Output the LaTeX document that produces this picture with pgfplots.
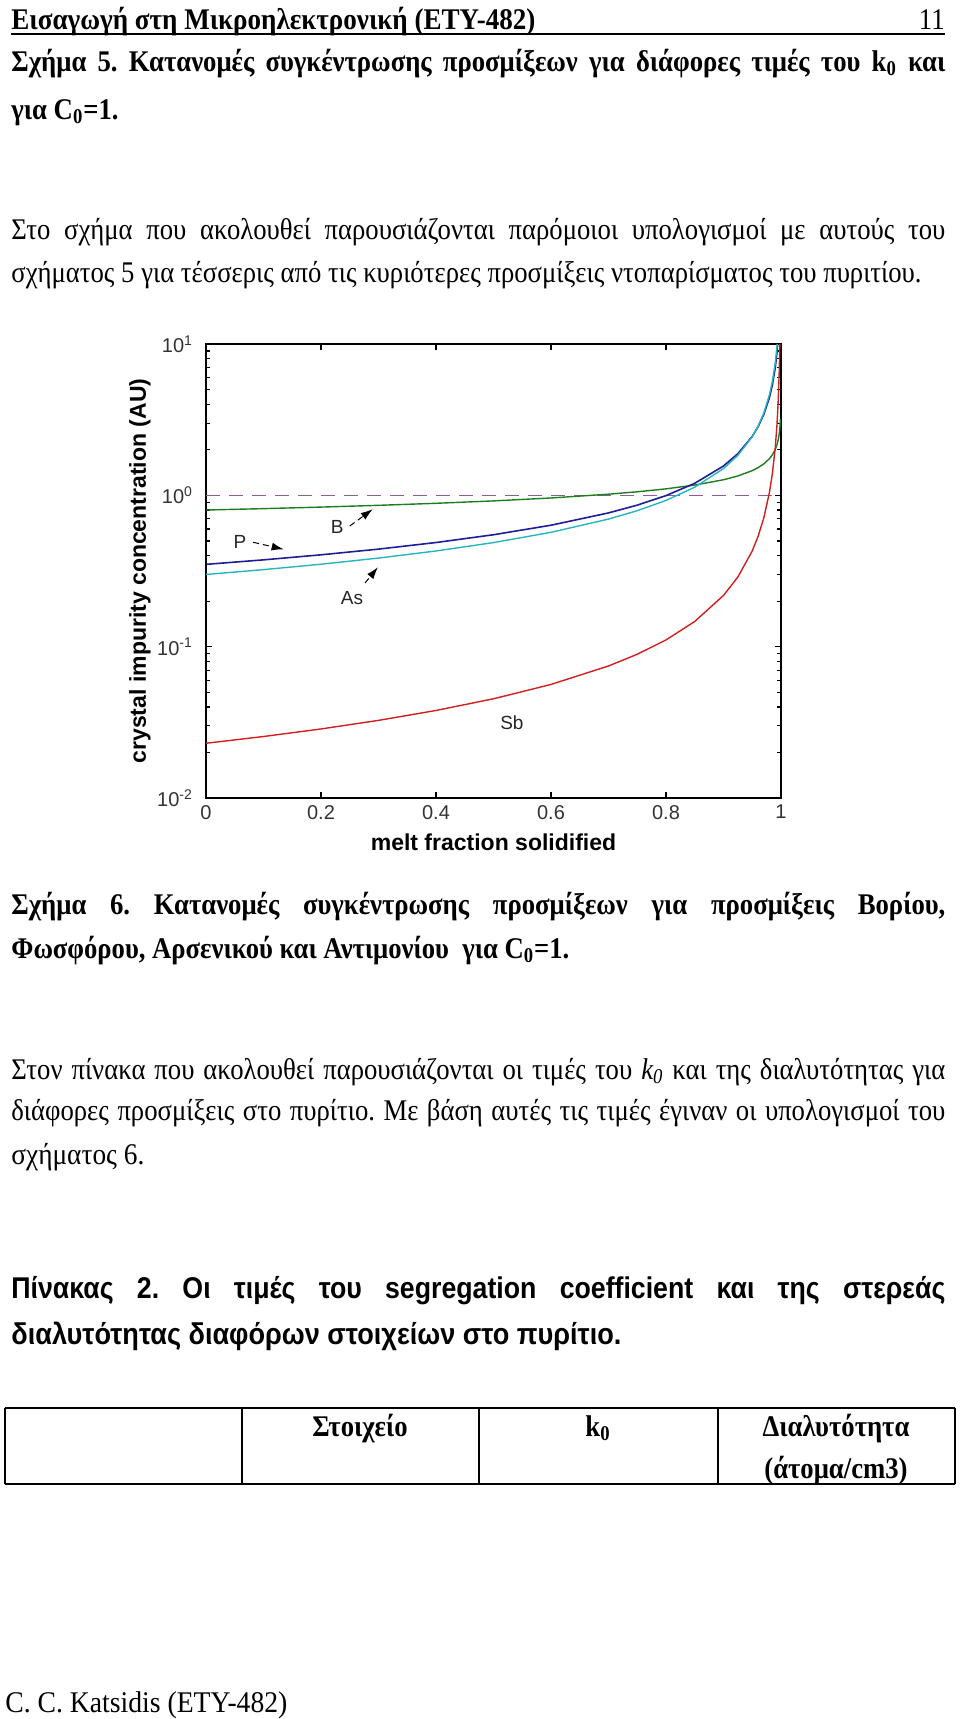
\documentclass[border=0pt]{standalone}
\usepackage{fontspec}
\usepackage{graphicx}
\setmainfont{Liberation Serif}[FakeStretch=0.89]
\newfontfamily\hsans{Liberation Sans}[FakeStretch=0.89]
\newfontfamily\chartfont{Liberation Sans}
\usepackage{pgfplots}
\pgfplotsset{compat=1.18}
\usetikzlibrary{arrows.meta}
\definecolor{cB}{RGB}{30,125,30}
\definecolor{cP}{RGB}{30,30,150}
\definecolor{cAs}{RGB}{40,180,190}
\definecolor{cSb}{RGB}{210,30,30}
\definecolor{cRef}{RGB}{140,95,150}
\newsavebox\lbox
\newcommand\fitto[2]{\sbox\lbox{#2}\pgfmathsetmacro\lratio{#1/\the\wd\lbox}\scalebox{\lratio}[1]{\usebox\lbox}}
\newcommand\jline[1]{\sbox\lbox{#1}\ifdim\wd\lbox>467pt\relax\fitto{467pt}{#1}\else\makebox[467pt][s]{#1}\fi}
\begin{document}
\frenchspacing
\begin{tikzpicture}
\begin{scope}[x=0.5pt,y=-0.5pt, every node/.style={inner sep=0pt, font=\fontsize{15}{18}\selectfont}]
\path[use as bounding box] (0,0) rectangle (960,1719);
% header
\node[anchor=base west] at (11,29) {\fitto{262pt}{\bfseries Εισαγωγή στη Μικροηλεκτρονική (ΕΤΥ-482)}};
\node[anchor=base east] at (945,29) {11};
\draw[line width=0.8pt] (11,34) -- (945,34);
% paragraph 1
\node[anchor=base west] at (11,71) {\jline{\bfseries Σχήμα 5. Κατανομές συγκέντρωσης προσμίξεων για διάφορες τιμές του k\textsubscript{0} και}};
\node[anchor=base west] at (11,119) {\bfseries για C\textsubscript{0}=1.};
\node[anchor=base west] at (11,239) {\jline{Στο σχήμα που ακολουθεί παρουσιάζονται παρόμοιοι υπολογισμοί με αυτούς του}};
\node[anchor=base west] at (11,282) {σχήματος 5 για τέσσερις από τις κυριότερες προσμίξεις ντοπαρίσματος του πυριτίου.};
% caption 6
\node[anchor=base west] at (11,914) {\jline{\bfseries Σχήμα 6. Κατανομές συγκέντρωσης προσμίξεων για προσμίξεις Βορίου,}};
\node[anchor=base west] at (11,958) {\fitto{279pt}{\bfseries Φωσφόρου, Αρσενικού και Αντιμονίου\ \ για C\textsubscript{0}=1.}};
\node[anchor=base west] at (11,1079) {\jline{Στον πίνακα που ακολουθεί παρουσιάζονται οι τιμές του \textit{k\textsubscript{0}} και της διαλυτότητας για}};
\node[anchor=base west] at (11,1120) {\jline{διάφορες προσμίξεις στο πυρίτιο. Με βάση αυτές τις τιμές έγιναν οι υπολογισμοί του}};
\node[anchor=base west] at (11,1164) {\fitto{66.5pt}{σχήματος 6.}};
% table caption
\node[anchor=base west] at (11,1298) {\jline{\hsans\bfseries Πίνακας 2. Οι τιμές του segregation coefficient και της στερεάς}};
\node[anchor=base west] at (11,1344) {\fitto{305pt}{\hsans\bfseries διαλυτότητας διαφόρων στοιχείων στο πυρίτιο.}};
% table
\draw[line width=1.2pt] (5,1408) -- (955,1408);
\draw[line width=1.2pt] (5,1484) -- (955,1484);
\foreach \xx in {5,242,479,718,955} {\draw[line width=0.6pt] (\xx,1408) -- (\xx,1484);}
\node[anchor=base] at (360,1436) {\bfseries Στοιχείο};
\node[anchor=base] at (598,1436) {\bfseries k\textsubscript{0}};
\node[anchor=base] at (836,1436) {\bfseries Διαλυτότητα};
\node[anchor=base] at (836,1478) {\bfseries (άτομα/cm3)};
% footer
\node[anchor=base west] at (5,1712) {\fitto{141pt}{C. C. Katsidis (ETY-482)}};
\end{scope}
\begin{axis}[
  at={(103pt,-399pt)}, anchor=south west,
  scale only axis, width=287.5pt, height=227pt,
  xmin=0, xmax=1, ymode=log, ymin=0.01, ymax=10,
  xtick={0,0.2,0.4,0.6,0.8,1},
  xticklabels={0,0.2,0.4,0.6,0.8,1},
  ytick={0.01,0.1,1,10},
  yticklabels={10\textsuperscript{-2},10\textsuperscript{-1},10\textsuperscript{0},10\textsuperscript{1}},
  minor ytick={0.02,0.03,0.04,0.05,0.06,0.07,0.08,0.09,0.2,0.3,0.4,0.5,0.6,0.7,0.8,0.9,2,3,4,5,6,7,8,9},
  tick align=inside,
  major tick length=3pt, minor tick length=2pt,
  every tick/.style={black, line width=0.6pt},
  axis line style={line width=1pt},
  ticklabel style={font=\chartfont\fontsize{10}{12}\selectfont, text=black!80},
  yticklabel style={xshift=-3pt},
  xlabel={\chartfont\bfseries\fontsize{11.5}{13}\selectfont melt fraction solidified},
  ylabel={\chartfont\bfseries\fontsize{11.5}{13}\selectfont crystal impurity concentration (AU)},
  xlabel style={at={(axis description cs:0.5,-0.0969)}, anchor=center},
  ylabel style={at={(axis description cs:-0.1148,0.5)}, anchor=center},
]
% reference C0 = 1
\addplot[cRef, line width=0.8pt, dash pattern=on 7pt off 4.5pt] coordinates {(0,1) (1,1)};
% B, k0 = 0.8
\addplot[cB, line width=0.7pt] coordinates {
(0,0.8) (0.1,0.817) (0.2,0.8365) (0.3,0.8592) (0.4,0.8861) (0.5,0.919) (0.6,0.9609)
(0.7,1.0178) (0.75,1.0556) (0.8,1.1038) (0.85,1.1692) (0.9,1.2679) (0.925,1.343)
(0.95,1.4564) (0.96,1.5229) (0.97,1.6131) (0.98,1.7494) (0.985,1.853) (0.99,2.0095)
(0.993,2.1581) (0.995,2.3083) (0.997,2.5566) (0.998,2.7726) (0.999,3.1849)};
% P, k0 = 0.35
\addplot[cP, line width=0.8pt] coordinates {
(0,0.35) (0.1,0.3748) (0.2,0.4046) (0.3,0.4413) (0.4,0.4878) (0.5,0.5492) (0.6,0.6349)
(0.7,0.7655) (0.75,0.8618) (0.8,0.9963) (0.85,1.2012) (0.9,1.5634) (0.925,1.8848)
(0.95,2.4532) (0.96,2.8363) (0.97,3.4192) (0.98,4.4504) (0.985,5.3656) (0.99,6.9834)
(0.993,8.806) (0.995,10.96) (0.997,15.27)};
% As, k0 = 0.3
\addplot[cAs, line width=0.7pt] coordinates {
(0,0.3) (0.1,0.323) (0.2,0.3507) (0.3,0.3851) (0.4,0.429) (0.5,0.4873) (0.6,0.5697)
(0.7,0.6969) (0.75,0.7917) (0.8,0.9255) (0.85,1.132) (0.9,1.5036) (0.925,1.8391)
(0.95,2.4426) (0.96,2.8554) (0.97,3.4925) (0.98,4.6389) (0.985,5.6734) (0.99,7.5357)
(0.993,9.673) (0.995,12.24)};
% Sb, k0 = 0.023
\addplot[cSb, line width=0.7pt] coordinates {
(0,0.023) (0.1,0.02549) (0.2,0.0286) (0.3,0.03259) (0.4,0.03789) (0.5,0.04527) (0.6,0.0563)
(0.7,0.07457) (0.75,0.08911) (0.8,0.11082) (0.85,0.14678) (0.9,0.21813) (0.925,0.28894)
(0.95,0.42937) (0.96,0.53396) (0.97,0.70732) (0.98,1.0512) (0.985,1.3927) (0.99,2.0691)
(0.993,2.9316) (0.995,4.0719) (0.997,6.707) (0.998,9.966) (0.999,19.62)};
% annotations
\node[font=\chartfont\fontsize{9.5}{11}\selectfont, text=black!85] at (axis cs:0.228,0.618) {B};
\node[font=\chartfont\fontsize{9.5}{11}\selectfont, text=black!85] at (axis cs:0.059,0.4915) {P};
\node[font=\chartfont\fontsize{9.5}{11}\selectfont, text=black!85] at (axis cs:0.254,0.2097) {As};
\node[font=\chartfont\fontsize{9.5}{11}\selectfont, text=black!85] at (axis cs:0.532,0.0313) {Sb};
\draw[densely dashed, line width=0.5pt, -{Latex[length=6pt,width=4pt]}] (axis cs:0.25,0.627) -- (axis cs:0.29,0.81);
\draw[densely dashed, line width=0.5pt, -{Latex[length=6pt,width=4pt]}] (axis cs:0.082,0.49) -- (axis cs:0.135,0.44);
\draw[densely dashed, line width=0.5pt, -{Latex[length=6pt,width=4pt]}] (axis cs:0.2765,0.2634) -- (axis cs:0.299,0.335);
\end{axis}
\end{tikzpicture}
\end{document}
